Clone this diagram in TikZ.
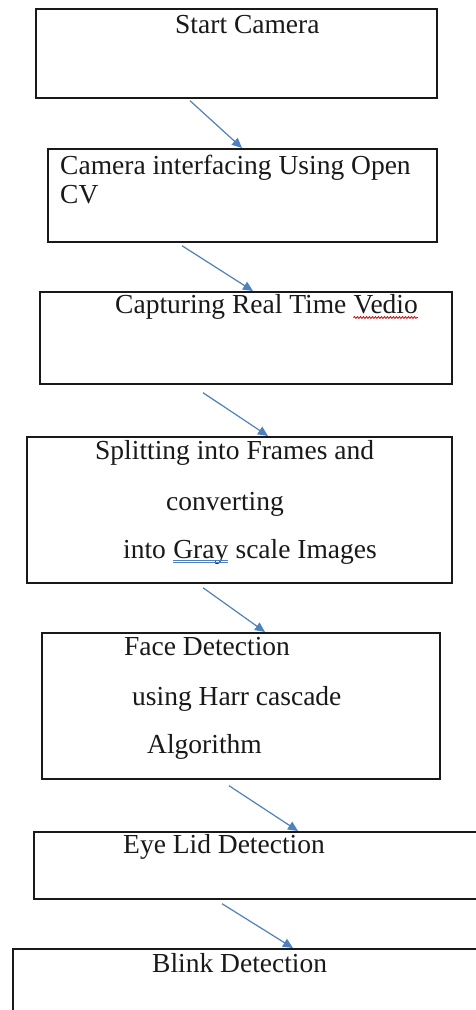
\documentclass[tikz,border=0pt]{standalone}
\usepackage{fontspec}
\setmainfont{Liberation Serif}
\usetikzlibrary{arrows.meta,decorations.pathmorphing}
\definecolor{arrowblue}{RGB}{79,129,189}
\definecolor{inkgray}{RGB}{25,25,25}
\tikzset{
  stage/.style={draw=inkgray, line width=1.7pt, inner sep=0pt, anchor=north west},
  lbl/.style={anchor=base west, inner sep=0pt, text=inkgray, font=\fontsize{27.5}{30}\selectfont},
  flow/.style={draw=arrowblue, line width=1.2pt, -{Triangle[length=10pt,width=9pt]}},
  spellmark/.style={draw=red!85!black, line width=0.8pt, decorate, decoration={snake, amplitude=0.9pt, segment length=3pt}},
  grammarmark/.style={draw=arrowblue, line width=0.8pt}
}
\begin{document}
\begin{tikzpicture}[x=1pt,y=-1pt]
\clip (0,0) rectangle (476,1010);
\fill[white] (0,0) rectangle (476,1010);
% boxes
\node[stage, minimum width=401pt, minimum height=89pt]  (b1) at (35,8)   {};
\node[stage, minimum width=389pt, minimum height=93pt]  (b2) at (47,148) {};
\node[stage, minimum width=412pt, minimum height=92pt]  (b3) at (39,291) {};
\node[stage, minimum width=425pt, minimum height=146pt] (b4) at (26,436) {};
\node[stage, minimum width=398pt, minimum height=146pt] (b5) at (41,632) {};
\node[stage, minimum width=457pt, minimum height=67pt]  (b6) at (33,831) {};
\node[stage, minimum width=478pt, minimum height=90pt]  (b7) at (12,948) {};
% texts
\node[lbl] (t1) at (175,33) {Start Camera};
\node[lbl] (t2a) at (60,174) {Camera interfacing Using Open};
\node[lbl] (t2b) at (60,203) {CV};
\node[lbl] (t3a) at (115,313) {Capturing Real Time};
\node[lbl] (t3b) at ([xshift=6.9pt]t3a.base east) {Vedio};
\node[lbl] (t4a) at (95,459) {Splitting into Frames and};
\node[lbl] (t4b) at (166,510) {converting};
\node[lbl] (t4c) at (123,558) {into};
\node[lbl] (t4d) at ([xshift=6.9pt]t4c.base east) {Gray};
\node[lbl] (t4e) at ([xshift=6.9pt]t4d.base east) {scale Images};
\node[lbl] (t5a) at (124,655) {Face Detection};
\node[lbl] (t5b) at (132,705) {using Harr cascade};
\node[lbl] (t5c) at (147,753) {Algorithm};
\node[lbl] (t6) at (123,853) {Eye Lid Detection};
\node[lbl] (t7) at (152,972) {Blink Detection};
% proofing marks
\draw[spellmark] ([yshift=-4.5pt]t3b.base west) -- ([yshift=-4.5pt]t3b.base east);
\draw[grammarmark] ([yshift=-2.5pt]t4d.base west) -- ([yshift=-2.5pt]t4d.base east);
\draw[grammarmark] ([yshift=-4.5pt]t4d.base west) -- ([yshift=-4.5pt]t4d.base east);
% connectors
\draw[flow] ([xshift=155pt,yshift=-2pt]b1.south west) -- ([xshift=195pt]b2.north west);
\draw[flow] ([xshift=135pt,yshift=-3pt]b2.south west) -- ([xshift=214pt]b3.north west);
\draw[flow] ([xshift=164pt,yshift=-8pt]b3.south west) -- ([xshift=242pt]b4.north west);
\draw[flow] ([xshift=177pt,yshift=-4pt]b4.south west) -- ([xshift=224pt]b5.north west);
\draw[flow] ([xshift=188pt,yshift=-6pt]b5.south west) -- ([xshift=265pt]b6.north west);
\draw[flow] ([xshift=189pt,yshift=-4pt]b6.south west) -- ([xshift=281pt]b7.north west);
\end{tikzpicture}
\end{document}
